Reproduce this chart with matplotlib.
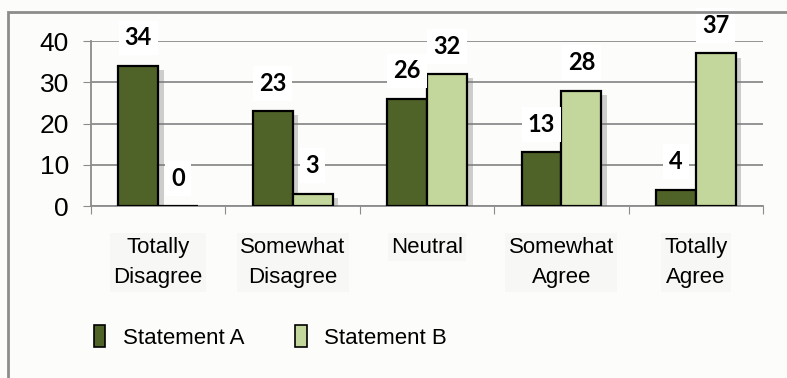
#!/usr/bin/env python3

import numpy as np
import matplotlib
matplotlib.use("Agg")
import matplotlib.pyplot as plt
import matplotlib.patheffects as pe
from matplotlib.patches import Rectangle

# =========================
# Data
# =========================
categories = ["Totally\nDisagree", "Somewhat\nDisagree", "Neutral",
              "Somewhat\nAgree", "Totally\nAgree"]
series_names = ["Statement A", "Statement B"]
statement_a = [34, 23, 26, 13, 4]
statement_b = [0, 3, 32, 28, 37]
y_ticks = [0, 10, 20, 30, 40]

colors = ["#4F6228", "#C3D69B"]
bg = "#FCFCFA"
sans = ["Liberation Sans", "DejaVu Sans"]

# =========================
# Plot
# =========================
fig = plt.figure(figsize=(7.87, 3.78), dpi=100, facecolor=bg)
ax = fig.add_axes([0.1156, 0.455, 0.854, 0.4365])
ax.set_facecolor(bg)

# outer chart border (top and left only visible)
fig.add_artist(Rectangle((8 / 787, -0.1), 1.2, 1 - 12 / 378 + 0.1,
                         transform=fig.transFigure, fill=False,
                         edgecolor="#8C8C8C", lw=2.0))

x = np.arange(len(categories))
width = 0.297
shadow = [pe.SimplePatchShadow(offset=(4, -3), shadow_rgbFace="#777777", alpha=0.35),
          pe.Normal()]

for k, (vals, name) in enumerate(zip([statement_a, statement_b], series_names)):
    pos = x + (k - 0.5) * width
    bars = ax.bar(pos, vals, width, color=colors[k], edgecolor="black",
                  linewidth=1.6, label=name, zorder=3)
    for b in bars:
        b.set_path_effects(shadow)
    for xp, v in zip(pos, vals):
        ax.annotate(str(v), (xp, v), xytext=(0, 20), textcoords="offset points",
                    ha="center", va="center", fontsize=17, fontweight="bold",
                    family=["Lato", "DejaVu Sans"], zorder=5, annotation_clip=False,
                    bbox=dict(boxstyle="square,pad=0.25", fc="white", ec="none"))

ax.set_xlim(-0.5, len(categories) - 0.5)
ax.set_ylim(0, 40)
ax.set_yticks(y_ticks)
ax.set_yticklabels([str(t) for t in y_ticks], fontsize=19, family=sans)
ax.yaxis.grid(True, color="#8C8C8C", lw=1.3, zorder=0)
ax.tick_params(axis="y", length=6, color="#8C8C8C", pad=10)

# x ticks at category boundaries, labels at centres
ax.set_xticks(np.arange(len(categories) + 1) - 0.5)
ax.set_xticklabels([])
ax.tick_params(axis="x", length=6, color="#8C8C8C", direction="out")
for xc, lab in zip(x, categories):
    ax.text(xc, -7.4, lab, ha="center", va="top", fontsize=16,
            family=sans, linespacing=1.62,
            bbox=dict(boxstyle="square,pad=0.15", fc="#F7F7F5", ec="none"))

for side in ["top", "right"]:
    ax.spines[side].set_visible(False)
for side in ["left", "bottom"]:
    ax.spines[side].set_color("#8C8C8C")
    ax.spines[side].set_linewidth(1.3)

leg = fig.legend(loc="center left", bbox_to_anchor=(0.094, 1 - 337 / 378),
                 ncol=2, frameon=False, handlelength=0.5,
                 handleheight=1.1, handletextpad=0.8, columnspacing=2.3,
                 prop={"family": sans, "size": 16})
for h in leg.legend_handles:
    h.set_path_effects([])
    h.set_linewidth(1.2)

plt.savefig("out.png", dpi=100, facecolor=bg)
plt.close()
